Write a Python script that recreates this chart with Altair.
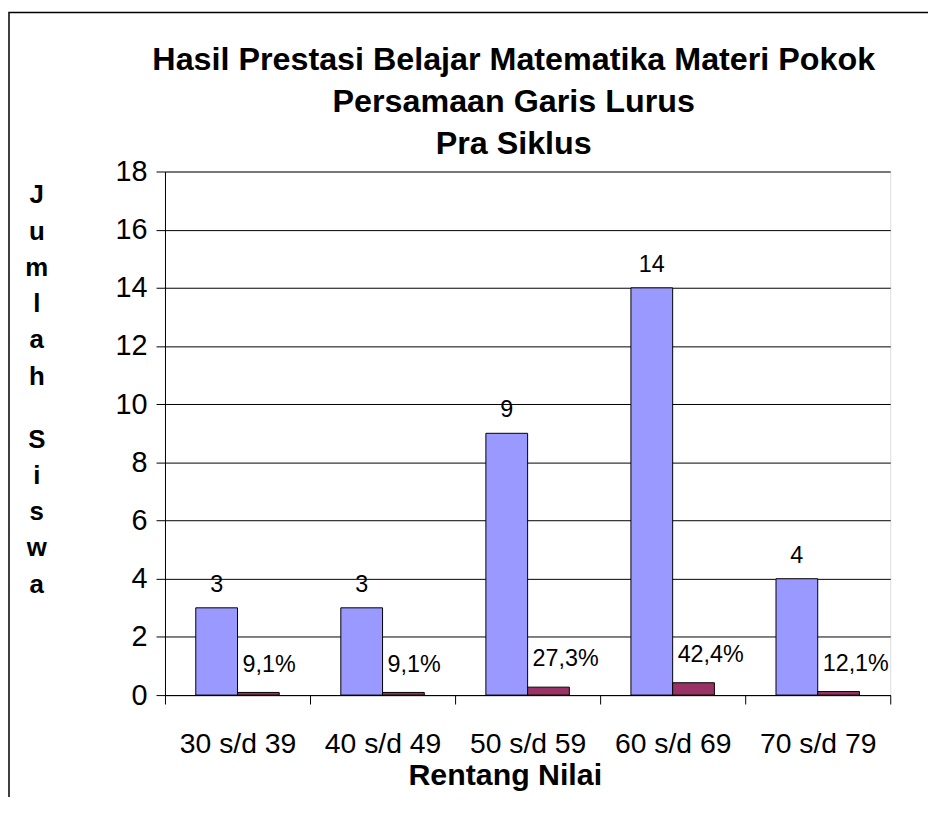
import altair as alt
import pandas as pd

categories = ["30 s/d 39", "40 s/d 49", "50 s/d 59", "60 s/d 69", "70 s/d 79"]
jumlah = [3, 3, 9, 14, 4]
persen = [0.091, 0.091, 0.273, 0.424, 0.121]
jumlah_labels = ["3", "3", "9", "14", "4"]
persen_labels = ["9,1%", "9,1%", "27,3%", "42,4%", "12,1%"]
series = ["Jumlah", "Persen"]
title_lines = ["Hasil Prestasi Belajar Matematika Materi Pokok", "Persamaan Garis Lurus", "Pra Siklus"]
y_title_1 = ["J", "u", "m", "l", "a", "h"]
y_title_2 = ["S", "i", "s", "w", "a"]

rows = []
for c, j, p, jl, pl in zip(categories, jumlah, persen, jumlah_labels, persen_labels):
    rows.append({"cat": c, "series": series[0], "value": j, "label": jl})
    rows.append({"cat": c, "series": series[1], "value": p, "label": pl})
df = pd.DataFrame(rows)

FONT = "Liberation Sans"
W, H = 730, 527

x_enc = alt.X(
    "cat:N",
    sort=categories,
    scale=alt.Scale(paddingInner=0, paddingOuter=0),
    axis=alt.Axis(
        tickBand="extent", tickSize=9, tickColor="black", domainColor="black",
        labelFontSize=28.5, labelFont=FONT, labelColor="black", labelAngle=0,
        labelPadding=26,
        title="Rentang Nilai", titleFont=FONT, titleFontSize=30.5,
        titleFontWeight="bold", titleColor="black",
        titleX=342, titleY=81, titleBaseline="middle", titleAlign="center",
    ),
)
xoff = alt.XOffset(
    "series:N", sort=series,
    scale=alt.Scale(domain=series, paddingInner=0, paddingOuter=0.738),
)
y_enc = alt.Y(
    "value:Q",
    scale=alt.Scale(domain=[0, 18], nice=False),
    axis=alt.Axis(
        values=list(range(0, 19, 2)), grid=True, gridColor="black", gridWidth=1,
        domainColor="black", tickColor="black", tickSize=9,
        labelFontSize=29, labelFont=FONT, labelColor="black", labelPadding=9,
        title=None,
    ),
)

base = alt.Chart(df)

bars = base.mark_bar(stroke="black", strokeWidth=1).encode(
    x=x_enc, xOffset=xoff, y=y_enc,
    color=alt.Color("series:N", scale=alt.Scale(domain=series, range=["#9999FF", "#993366"]), legend=None),
)

lab_j = base.transform_filter(alt.datum.series == "Jumlah").mark_text(
    font=FONT, fontSize=23.5, color="black", baseline="alphabetic", align="center", dy=-16
).encode(x=alt.X("cat:N", sort=categories), xOffset=xoff, y="value:Q", text="label:N")

lab_p = base.transform_filter(alt.datum.series == "Persen").mark_text(
    font=FONT, fontSize=23.5, color="black", baseline="alphabetic", align="left", dx=-16, dy=-21
).encode(x=alt.X("cat:N", sort=categories), xOffset=xoff, y="value:Q", text="label:N")

one = alt.Data(values=[{"f": 1}])

frame = alt.Chart(one).mark_rect(
    fill=None, stroke="black", strokeWidth=1.5, clip=False
).encode(
    x=alt.value(-157), x2=alt.value(W + 60), y=alt.value(-160), y2=alt.value(H + 160)
)

title = alt.Chart(one).mark_text(
    text=title_lines, font=FONT, fontSize=32.5, fontWeight="bold", color="black",
    lineHeight=42, align="center", baseline="middle", clip=False,
).encode(x=alt.value(W / 2 - 14), y=alt.value(-112))

ytitle1 = alt.Chart(one).mark_text(
    text=y_title_1, font=FONT, fontSize=26, fontWeight="bold", color="black",
    lineHeight=36.5, align="center", baseline="middle", clip=False,
).encode(x=alt.value(-129), y=alt.value(24))

ytitle2 = alt.Chart(one).mark_text(
    text=y_title_2, font=FONT, fontSize=26, fontWeight="bold", color="black",
    lineHeight=36.5, align="center", baseline="middle", clip=False,
).encode(x=alt.value(-129), y=alt.value(270))

chart = alt.layer(frame, bars, lab_j, lab_p, title, ytitle1, ytitle2).properties(
    width=W, height=H,
    autosize=alt.AutoSizeParams(type="none"),
    padding={"left": 158, "top": 162, "right": 38, "bottom": 100},
).configure_view(fill="#C0C0C0", stroke="#808080", strokeWidth=1.5).configure(background="white")

chart.save("out.html", embed_options={"renderer": "svg", "actions": False})
